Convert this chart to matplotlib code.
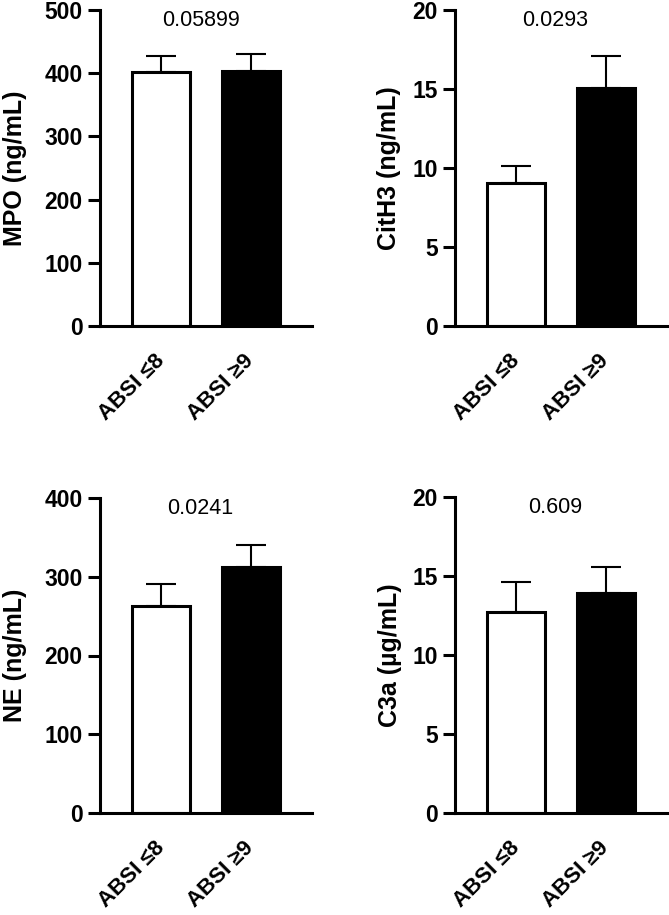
import matplotlib
matplotlib.use("Agg")
from matplotlib import pyplot as plt

plt.rcParams['font.family'] = ['Liberation Sans', 'DejaVu Sans']

groups = ["ABSI \u22648", "ABSI \u22659"]

mpo_mean = [402, 403]
mpo_sem = [25, 27]
cith3_mean = [9.05, 15.05]
cith3_sem = [1.05, 2.05]
ne_mean = [263, 312]
ne_sem = [28, 28]
c3a_mean = [12.75, 13.9]
c3a_sem = [1.85, 1.7]

p_values = ["0.05899", "0.0293", "0.0241", "0.609"]
y_labels = ["MPO (ng/mL)", "CitH3 (ng/mL)", "NE (ng/mL)", "C3a (\u00b5g/mL)"]
y_limits = [500, 20, 400, 20]
y_steps = [100, 5, 100, 5]

W, H = 669, 915
fig = plt.figure(figsize=(W / 100, H / 100), dpi=100)

# axes boxes in pixels: left, top, right, bottom
boxes = [(100, 10, 312, 326), (455, 10, 667, 326),
         (100, 498, 312, 813), (455, 497, 667, 813)]
label_x = [-0.346, -0.255, -0.342, -0.252]

means = [mpo_mean, cith3_mean, ne_mean, c3a_mean]
sems = [mpo_sem, cith3_sem, ne_sem, c3a_sem]

lw = 2.2
for i in range(4):
    l, t, r, b = boxes[i]
    ax = fig.add_axes([l / W, 1 - b / H, (r - l) / W, (b - t) / H])
    x = [0, 1]
    ax.bar(x, means[i], width=0.64, color=["white", "black"],
           edgecolor="black", linewidth=lw, zorder=2)
    ax.errorbar(x, means[i], yerr=[[0, 0], sems[i]], fmt="none",
                ecolor="black", elinewidth=1.5, capsize=11, capthick=1.5,
                zorder=1)

    ax.set_xlim(-0.68, 1.68)
    ax.set_ylim(0, y_limits[i])
    ax.set_yticks(range(0, y_limits[i] + 1, y_steps[i]))
    ax.set_xticks(x)
    ax.set_xticklabels(groups, rotation=45, ha="right", va="center",
                       rotation_mode="anchor", fontsize=16, fontweight="bold")
    ax.tick_params(axis="x", length=0, pad=23)
    ax.tick_params(axis="y", length=8.6, width=lw, pad=4, labelsize=16.5)
    for lab in ax.get_yticklabels():
        lab.set_fontweight("bold")

    for side in ["top", "right"]:
        ax.spines[side].set_visible(False)
    for side in ["left", "bottom"]:
        ax.spines[side].set_linewidth(lw)

    ax.set_ylabel(y_labels[i], fontsize=18, fontweight="bold")
    ax.yaxis.set_label_coords(label_x[i], 0.5)

    ax.text(0.44, 0.968, p_values[i], transform=ax.get_xaxis_transform(),
            ha="center", va="center", fontsize=15.5)

fig.savefig("out.png", dpi=100)
